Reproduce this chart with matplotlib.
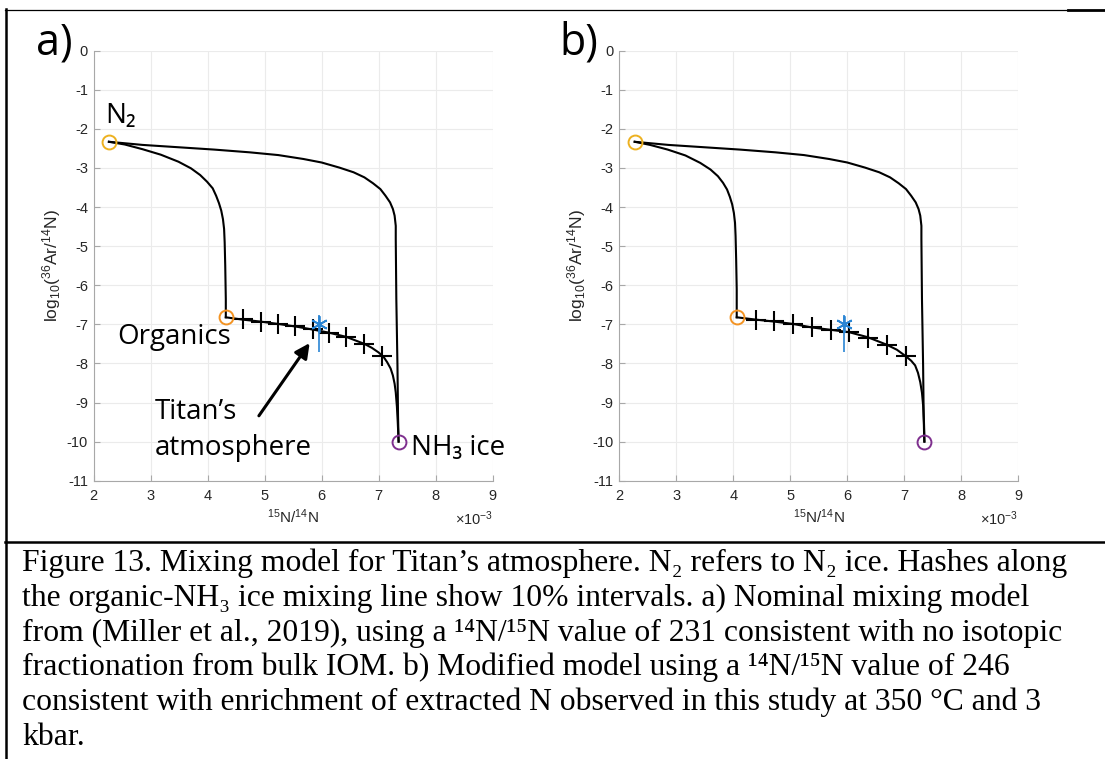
import numpy as np
import matplotlib.pyplot as plt
from matplotlib.lines import Line2D

plt.rcParams['font.family'] = 'Liberation Sans'
plt.rcParams['mathtext.fontset'] = 'custom'
plt.rcParams['mathtext.rm'] = 'Liberation Sans'
plt.rcParams['mathtext.it'] = 'Liberation Sans:italic'
plt.rcParams['mathtext.bf'] = 'Liberation Sans:bold'
plt.rcParams['axes.unicode_minus'] = False

# ---- data (x in units of 1e-3) ----
# endmembers: N2, organics (a / b), NH3 ice
n2_pt = (2.27, -2.33)
org_pt_a = (4.32, -6.82)
org_pt_b = (4.06, -6.82)
nh3_pt = (7.35, -10.0)
titan_pt = (5.95, -7.0)
titan_err = (0.70, 0.25)  # (down, up)

# N2 -> NH3 ice mixing curve (same in both panels)
top_x = [2.27, 2.86, 3.49, 4.12, 4.74, 5.24, 5.68, 6.00, 6.31, 6.56, 6.75, 6.90, 7.03, 7.12, 7.20,
         7.25, 7.28, 7.30, 7.30, 7.31, 7.33, 7.34, 7.35]
top_y = [-2.33, -2.41, -2.47, -2.53, -2.60, -2.67, -2.77, -2.86, -2.99, -3.11, -3.24, -3.39, -3.54,
         -3.71, -3.88, -4.05, -4.22, -4.48, -4.82, -6.35, -8.06, -9.34, -10.0]

# N2 -> organics mixing curve
low_x_a = [2.27, 2.55, 2.86, 3.18, 3.49, 3.71, 3.87, 3.99, 4.09, 4.15, 4.20, 4.24, 4.27, 4.29,
           4.30, 4.31, 4.32, 4.32]
low_y_a = [-2.33, -2.40, -2.52, -2.66, -2.84, -3.01, -3.18, -3.35, -3.52, -3.71, -3.90, -4.09,
           -4.31, -4.56, -4.90, -5.50, -6.35, -6.82]
low_x_b = [2.27, 2.54, 2.85, 3.16, 3.42, 3.60, 3.73, 3.82, 3.89, 3.94, 3.98, 4.01, 4.03, 4.04,
           4.05, 4.06, 4.06]
low_y_b = [-2.33, -2.41, -2.53, -2.68, -2.87, -3.04, -3.21, -3.38, -3.55, -3.74, -3.93, -4.15,
           -4.40, -4.74, -5.33, -6.10, -6.82]

# organics -> NH3 ice mixing curve
mix_x_a = [4.32, 4.62, 4.93, 5.24, 5.56, 5.87, 6.12, 6.43, 6.75, 6.88, 7.00, 7.09, 7.15, 7.21,
           7.25, 7.28, 7.30, 7.32, 7.335, 7.35]
mix_y_a = [-6.82, -6.88, -6.93, -6.99, -7.06, -7.14, -7.21, -7.32, -7.50, -7.60, -7.72, -7.84,
           -7.97, -8.13, -8.31, -8.52, -8.74, -9.10, -9.50, -10.0]
mix_x_b = [4.06, 4.40, 4.72, 5.05, 5.38, 5.71, 6.03, 6.36, 6.69, 6.87, 7.03, 7.12, 7.19, 7.24,
           7.28, 7.31, 7.33, 7.345, 7.355]
mix_y_b = [-6.82, -6.88, -6.93, -6.99, -7.08, -7.14, -7.20, -7.33, -7.52, -7.65, -7.82, -7.93,
           -8.05, -8.24, -8.48, -8.75, -9.07, -9.50, -10.0]

# 10 % hashes
hash_x_a = [4.62, 4.93, 5.23, 5.53, 5.85, 6.13, 6.42, 6.74, 7.06]
hash_y_a = [-6.87, -6.93, -6.99, -7.05, -7.12, -7.21, -7.33, -7.50, -7.80]
hash_x_b = [4.40, 4.72, 5.05, 5.38, 5.71, 6.03, 6.36, 6.69, 7.03]
hash_y_b = [-6.88, -6.92, -6.99, -7.08, -7.14, -7.20, -7.35, -7.52, -7.81]

xticks = [2, 3, 4, 5, 6, 7, 8, 9]
yticks = list(range(0, -12, -1))

caption = [
    "Figure 13. Mixing model for Titan\u2019s atmosphere. N\u2082 refers to N\u2082 ice. Hashes along",
    "the organic-NH\u2083 ice mixing line show 10% intervals. a) Nominal mixing model",
    "from (Miller et al., 2019), using a \u00b9\u2074N/\u00b9\u2075N value of 231 consistent with no isotopic",
    "fractionation from bulk IOM. b) Modified model using a \u00b9\u2074N/\u00b9\u2075N value of 246",
    "consistent with enrichment of extracted N observed in this study at 350 \u00b0C and 3",
    "kbar.",
]

W, H = 1105, 759
fig = plt.figure(figsize=(W / 100, H / 100), dpi=100)

ORANGE_N2 = '#edb120'
ORANGE_ORG = '#f39322'
PURPLE = '#7e2f8e'
BLUE = '#2a85d4'
TXT = '#262626'


def panel(rect, low_x, low_y, mix_x, mix_y, hx, hy, org_pt):
    ax = fig.add_axes(rect)
    ax.plot(top_x, top_y, color='k', lw=1.5)
    ax.plot(low_x, low_y, color='k', lw=1.5)
    ax.plot(mix_x, mix_y, color='k', lw=1.5)
    ax.plot(hx, hy, ls='none', marker='+', ms=14, mew=1.5, color='k')
    ax.errorbar([titan_pt[0]], [titan_pt[1]], yerr=[[titan_err[0]], [titan_err[1]]],
                fmt='none', ecolor=BLUE, elinewidth=1.2, capsize=0)
    ax.plot([titan_pt[0]], [titan_pt[1]], ls='none', marker=(6, 2, 0), ms=12, mew=1.3, color=BLUE)
    ax.plot([n2_pt[0]], [n2_pt[1]], 'o', ms=10, mfc='none', mec=ORANGE_N2, mew=1.4)
    ax.plot([org_pt[0]], [org_pt[1]], 'o', ms=10, mfc='none', mec=ORANGE_ORG, mew=1.4)
    ax.plot([nh3_pt[0]], [nh3_pt[1]], 'o', ms=10, mfc='none', mec=PURPLE, mew=1.4)

    ax.set_xlim(2, 9)
    ax.set_ylim(-11, 0)
    ax.set_xticks(xticks)
    ax.set_yticks(yticks)
    ax.grid(True, color='#ebebeb', lw=0.8)
    ax.set_axisbelow(True)
    for s in ['top', 'right']:
        ax.spines[s].set_visible(False)
    for s in ['left', 'bottom']:
        ax.spines[s].set_color('#a8a8a8')
        ax.spines[s].set_linewidth(0.8)
    ax.tick_params(direction='in', length=4, width=0.8, color='#a8a8a8',
                   labelcolor=TXT, labelsize=10.5)
    ax.tick_params(axis='y', pad=4)
    ax.tick_params(axis='x', pad=6)
    ax.text(0.5, -0.062, '$^{15}$N/$^{14}$N', transform=ax.transAxes,
            ha='center', va='top', fontsize=11, color=TXT)
    ax.text(1.0, -0.066, '$\\times$10$^{-3}$', transform=ax.transAxes,
            ha='right', va='top', fontsize=10.5, color=TXT)
    ax.set_ylabel('log$_{10}$($^{36}$Ar/$^{14}$N)', fontsize=12.5, color=TXT, labelpad=3)
    return ax


ax_a = panel([93.5 / W, 1 - 480.7 / H, 399.2 / W, 430 / H],
             low_x_a, low_y_a, mix_x_a, mix_y_a, hash_x_a, hash_y_a, org_pt_a)
ax_b = panel([619.3 / W, 1 - 480.7 / H, 399.0 / W, 430 / H],
             low_x_b, low_y_b, mix_x_b, mix_y_b, hash_x_b, hash_y_b, org_pt_b)

# panel tags
fig.text(36 / W, 1 - 55 / H, 'a)', fontsize=31, family='Open Sans', va='baseline', color='k')
fig.text(559 / W, 1 - 55 / H, 'b)', fontsize=31, family='Open Sans', va='baseline', color='k')

# annotations in panel a
lab = dict(fontsize=20, family=['Open Sans', 'DejaVu Sans'], color='k', va='baseline', ha='left')
ax_a.text(2.20, -1.86, 'N\u2082', **lab)
ax_a.text(2.41, -7.50, 'Organics', **lab)
ax_a.text(3.07, -9.43, 'Titan\u2019s', **lab)
ax_a.text(3.07, -10.34, 'atmosphere', **lab)
ax_a.text(7.56, -10.34, 'NH\u2083 ice', **lab)
ax_a.annotate('', xy=(5.79, -7.48), xytext=(4.90, -9.34),
              arrowprops=dict(arrowstyle='-|>', color='k', lw=2.2, mutation_scale=22,
                              shrinkA=0, shrinkB=0))

# table borders
fig.add_artist(Line2D([5 / W, 1068 / W], [1 - 9.5 / H, 1 - 9.5 / H], color='k', lw=0.9))
fig.add_artist(Line2D([1068 / W, 1.0], [1 - 10 / H, 1 - 10 / H], color='k', lw=2.0))
fig.add_artist(Line2D([6.3 / W, 6.3 / W], [1 - 9 / H, 0.0], color='k', lw=1.8))
fig.add_artist(Line2D([5 / W, 1.0], [1 - 541.7 / H, 1 - 541.7 / H], color='k', lw=1.8))

# caption
for i, line in enumerate(caption):
    fig.text(22 / W, 1 - (571 + 34.8 * i) / H, line, fontsize=22.8,
             family=['Liberation Serif', 'DejaVu Serif'],
             va='baseline', ha='left', color='k')

fig.savefig('out.png', dpi=100)
